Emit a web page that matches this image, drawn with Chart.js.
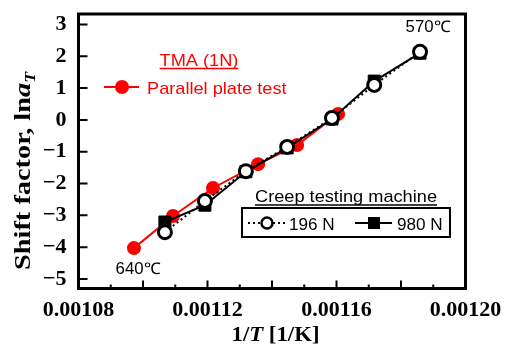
<!DOCTYPE html>
<html>
<head>
<meta charset="utf-8">
<script src="https://cdn.jsdelivr.net/npm/chart.js@4/dist/chart.umd.min.js"></script>
<style>
  html, body { margin: 0; padding: 0; background: #fff; }
  canvas { display: block; }
</style>
</head>
<body>
<canvas id="myChart" width="508" height="344"></canvas>
<script>
  // TMA (1N), parallel plate test
  const tmaInvT = [0.0010972, 0.0011093, 0.0011217, 0.0011357, 0.0011478, 0.0011605]
  const tmaLnA = [-4.03, -3.02, -2.14, -1.39, -0.79, 0.19]

  // Creep testing machine, 630 ... 570 C
  const creepInvT = [0.0011068, 0.0011192, 0.0011319, 0.0011447, 0.0011586, 0.0011717, 0.0011859]
  const creep196 = [-3.53, -2.55, -1.61, -0.85, 0.06, 1.10, 2.14]
  const creep980 = [-3.21, -2.68, -1.63, -0.88, 0.03, 1.22, 2.10]

  const seriesNames = ['Parallel plate test', '196 N', '980 N']
  const groupTitles = ['TMA (1N)', 'Creep testing machine']
  const tempLabels = ['640℃', '570℃']

  const RED = '#ff0000'
  const SERIF = '"Liberation Serif", "Times New Roman", serif'
  const SANS = '"Liberation Sans", Arial, sans-serif'

  const pts = (xs, ys) => xs.map((x, i) => ({ x, y: ys[i] }))

  // draw text stretched horizontally by sx
  function txt(ctx, s, x, y, font, color, align, sx) {
    ctx.save()
    ctx.font = font
    ctx.fillStyle = color
    ctx.textAlign = 'left'
    ctx.textBaseline = 'alphabetic'
    const w = ctx.measureText(s).width * sx
    const left = align === 'center' ? x - w / 2 : (align === 'right' ? x - w : x)
    ctx.translate(left, y)
    ctx.scale(sx, 1)
    ctx.fillText(s, 0, 0)
    ctx.restore()
    return { left, w }
  }

  // mixed-style text fitted to a given length, optionally rotated
  function richText(ctx, parts, cx, cy, length, rot) {
    ctx.save()
    let total = 0
    parts.forEach(p => { ctx.font = p.font; p.w = ctx.measureText(p.t).width; total += p.w })
    const k = length / total
    ctx.translate(cx, cy)
    ctx.rotate(rot)
    ctx.scale(k, 1)
    ctx.fillStyle = '#000'
    ctx.textBaseline = 'alphabetic'
    ctx.textAlign = 'left'
    let x = -total / 2
    parts.forEach(p => {
      ctx.font = p.font
      ctx.fillText(p.t, x, p.dy || 0)
      x += p.w
    })
    ctx.restore()
  }

  const decorations = {
    id: 'decorations',
    afterDraw(chart) {
      const { ctx, chartArea: a, scales: { x, y } } = chart
      ctx.save()

      // frame
      ctx.strokeStyle = '#000'
      ctx.lineWidth = 3
      ctx.strokeRect(a.left, a.top, a.right - a.left, a.bottom - a.top)

      // inward tick marks
      ctx.lineWidth = 2
      ctx.beginPath()
      y.ticks.forEach(t => {
        const py = y.getPixelForValue(t.value)
        ctx.moveTo(a.left, py)
        ctx.lineTo(a.left + 9, py)
      })
      x.ticks.forEach(t => {
        const px = x.getPixelForValue(t.value)
        const len = Math.round(t.value * 1e5) % 2 === 0 ? 8 : 4
        ctx.moveTo(px, a.bottom)
        ctx.lineTo(px, a.bottom - len)
      })
      ctx.stroke()

      // TMA legend
      const t1 = txt(ctx, groupTitles[0], 199, 66, '17px ' + SANS, RED, 'center', 1.07)
      ctx.strokeStyle = RED
      ctx.lineWidth = 1.5
      ctx.beginPath()
      ctx.moveTo(t1.left, 68.5)
      ctx.lineTo(t1.left + t1.w, 68.5)
      ctx.stroke()
      ctx.lineWidth = 2
      ctx.beginPath()
      ctx.moveTo(104, 87)
      ctx.lineTo(139, 87)
      ctx.stroke()
      ctx.fillStyle = RED
      ctx.beginPath()
      ctx.arc(122, 87, 7, 0, Math.PI * 2)
      ctx.fill()
      txt(ctx, seriesNames[0], 147, 94, '17px ' + SANS, RED, 'left', 1.07)

      // creep legend
      const t2 = txt(ctx, groupTitles[1], 346, 202, '17px ' + SANS, '#000', 'center', 1.07)
      ctx.strokeStyle = '#000'
      ctx.lineWidth = 1.5
      ctx.beginPath()
      ctx.moveTo(t2.left, 205)
      ctx.lineTo(t2.left + t2.w, 205)
      ctx.stroke()
      ctx.lineWidth = 2
      ctx.strokeRect(242, 208, 208, 29)

      ctx.setLineDash([2, 3])
      ctx.beginPath()
      ctx.moveTo(248, 223)
      ctx.lineTo(285, 223)
      ctx.stroke()
      ctx.setLineDash([])
      ctx.fillStyle = '#fff'
      ctx.lineWidth = 2.5
      ctx.beginPath()
      ctx.arc(267, 223, 5.5, 0, Math.PI * 2)
      ctx.fill()
      ctx.stroke()
      txt(ctx, seriesNames[1], 289, 230, '16px ' + SANS, '#000', 'left', 1.07)

      ctx.lineWidth = 2
      ctx.beginPath()
      ctx.moveTo(355, 223)
      ctx.lineTo(392, 223)
      ctx.stroke()
      ctx.fillStyle = '#000'
      ctx.fillRect(368, 217, 12, 12)
      txt(ctx, seriesNames[2], 397, 230, '16px ' + SANS, '#000', 'left', 1.07)

      // temperature labels next to the end points
      const p640 = { x: x.getPixelForValue(tmaInvT[0]), y: y.getPixelForValue(tmaLnA[0]) }
      const last = creepInvT.length - 1
      const p570 = { x: x.getPixelForValue(creepInvT[last]), y: y.getPixelForValue(creep196[last]) }
      txt(ctx, tempLabels[0], p640.x + 4, p640.y + 25.5, '16px ' + SANS, '#000', 'center', 1.05)
      txt(ctx, tempLabels[1], p570.x + 8, p570.y - 19.5, '16px ' + SANS, '#000', 'center', 1.05)

      // axis titles
      richText(ctx, [
        { t: 'Shift factor, ln', font: 'bold 24px ' + SERIF },
        { t: 'a', font: 'italic bold 24px ' + SERIF },
        { t: 'T', font: 'italic bold 15px ' + SERIF, dy: 5 }
      ], 30, 171, 198, -Math.PI / 2)
      richText(ctx, [
        { t: '1/', font: 'bold 20px ' + SERIF },
        { t: 'T', font: 'italic bold 20px ' + SERIF },
        { t: ' [1/K]', font: 'bold 20px ' + SERIF }
      ], 275.5, 341, 88, 0)

      ctx.restore()
    }
  }

  const tickFont = { family: SERIF, size: 22, weight: 'bold' }

  const ctx = document.getElementById('myChart')
  // eslint-disable-next-line no-unused-vars
  const myChart = new Chart(ctx, {
    type: 'scatter',
    data: {
      datasets: [
        {
          label: seriesNames[1],
          data: pts(creepInvT, creep196),
          showLine: true,
          borderColor: '#000',
          borderWidth: 2,
          borderDash: [2, 3],
          pointStyle: 'circle',
          pointRadius: 6.5,
          pointBorderWidth: 3,
          pointBackgroundColor: '#fff',
          pointBorderColor: '#000',
          order: 1
        },
        {
          label: seriesNames[2],
          data: pts(creepInvT, creep980),
          showLine: true,
          borderColor: '#000',
          borderWidth: 2,
          pointStyle: 'rect',
          pointRadius: 8.5,
          pointBorderWidth: 1,
          pointBackgroundColor: '#000',
          pointBorderColor: '#000',
          order: 2
        },
        {
          label: seriesNames[0],
          data: pts(tmaInvT, tmaLnA),
          showLine: true,
          borderColor: RED,
          borderWidth: 2,
          pointStyle: 'circle',
          pointRadius: 7,
          pointBorderWidth: 0,
          pointBackgroundColor: RED,
          pointBorderColor: RED,
          order: 3
        }
      ]
    },
    options: {
      responsive: false,
      animation: false,
      layout: { padding: { top: 14, right: 42.5, left: 0, bottom: 0 } },
      plugins: {
        legend: { display: false },
        tooltip: { enabled: false }
      },
      scales: {
        x: {
          type: 'linear',
          min: 0.00108,
          max: 0.0012,
          grid: { display: false, drawTicks: false },
          border: { display: false },
          ticks: {
            stepSize: 0.00001,
            autoSkip: false,
            maxRotation: 0,
            includeBounds: false,
            padding: 9,
            color: '#000',
            font: tickFont,
            callback: v => Math.round(v * 1e5) % 4 === 0 ? v.toFixed(5) : ''
          },
          afterFit: s => {
            s.height = 55.5
            s.paddingLeft = 0
            s.paddingRight = 0
          }
        },
        y: {
          min: -5.3,
          max: 3.33,
          grid: { display: false, drawTicks: false },
          border: { display: false },
          ticks: {
            stepSize: 1,
            includeBounds: false,
            padding: 12,
            color: '#000',
            font: tickFont,
            callback: v => v < 0 ? '−' + Math.abs(v) : String(v)
          },
          afterFit: s => {
            s.width = 78.5
            s.paddingTop = 0
            s.paddingBottom = 0
          }
        }
      }
    },
    plugins: [decorations]
  })
</script>
</body>
</html>
